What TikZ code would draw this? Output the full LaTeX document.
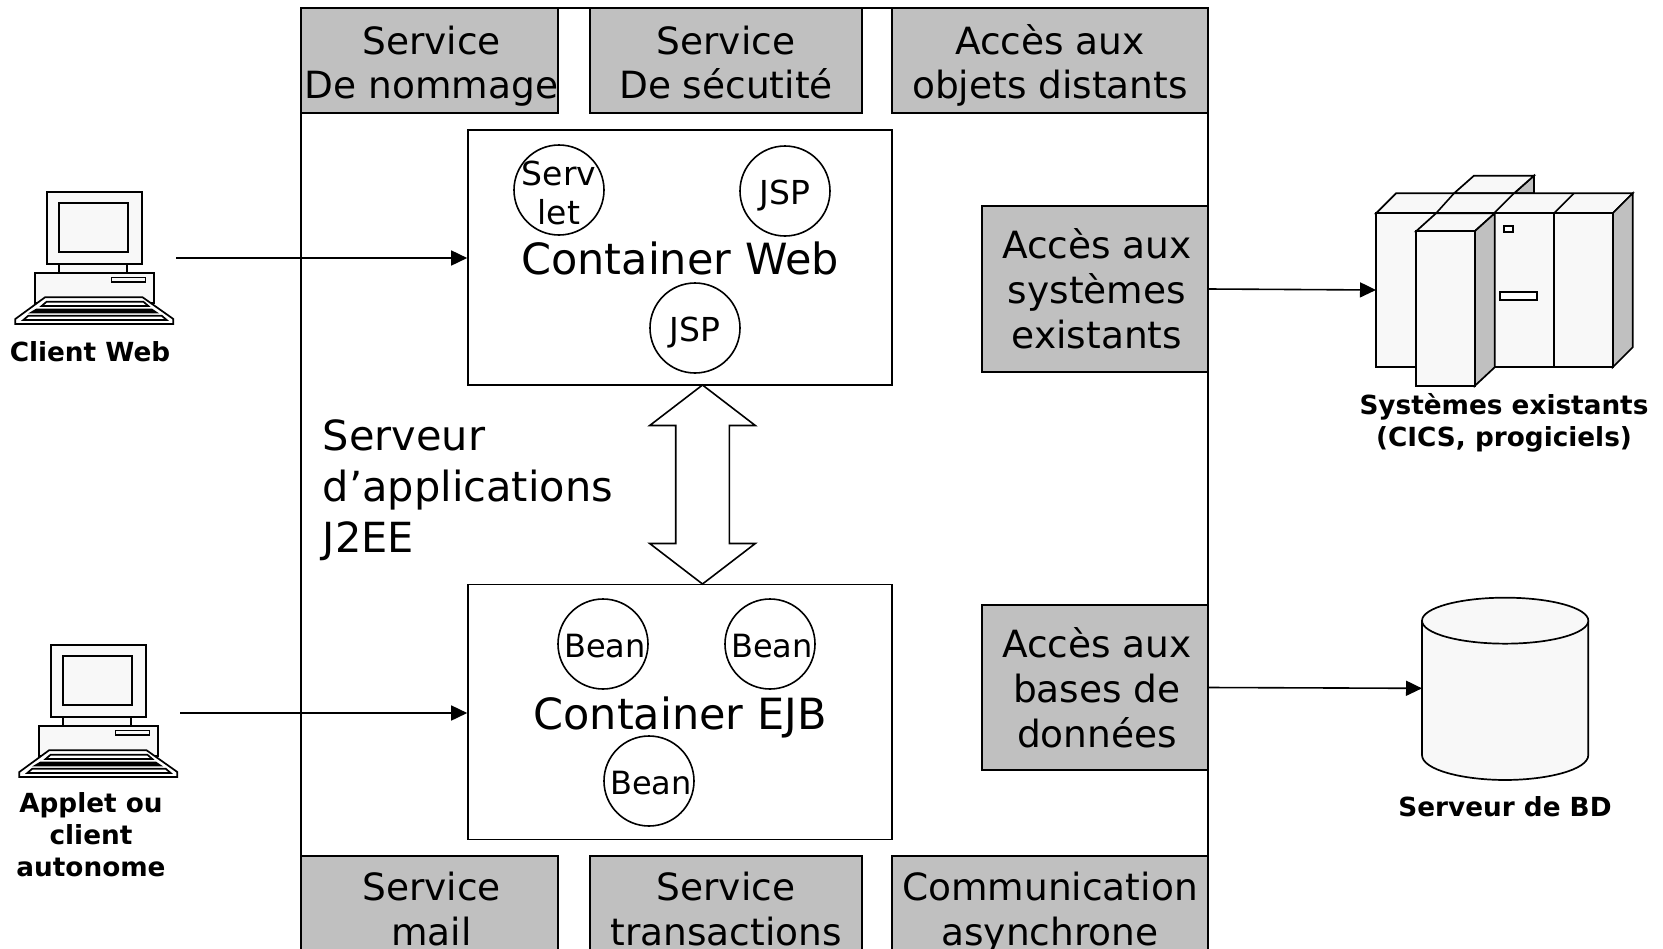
\documentclass[tikz,border=0pt]{standalone}
\usepackage{fontspec}
\setmainfont{DejaVu Sans}
\usetikzlibrary{arrows.meta,shapes.arrows}
\definecolor{boxgray}{HTML}{C0C0C0}
\definecolor{pale}{HTML}{F8F8F8}
\newcommand{\hta}{\rule{0pt}{40pt}}
\newcommand{\htb}{\rule{0pt}{36pt}}
\newcommand{\htc}{\rule{0pt}{38pt}}
\newcommand{\dpa}{\rule[-8.3pt]{0pt}{8.3pt}}
\newcommand{\shr}{\hspace*{4pt}}
\tikzset{
  graybox/.style={draw,fill=boxgray,inner sep=0pt,align=center,font=\fontsize{37.5}{44.5}\selectfont},
  sidebox/.style={graybox,font=\fontsize{37.5}{45}\selectfont},
  container/.style={draw,fill=white,inner sep=0pt,minimum width=424pt,minimum height=255pt},
  bigtext/.style={inner sep=0pt,align=left,font=\fontsize{41.5}{51}\selectfont},
  conttext/.style={inner sep=0pt,text height=31pt,text depth=0pt,font=\fontsize{43}{50}\selectfont},
  comp/.style={draw,circle,fill=white,inner sep=0pt,minimum size=90pt,text height=26pt,text depth=0pt,font=\fontsize{33}{39}\selectfont},
  beancomp/.style={comp,font=\fontsize{32}{39}\selectfont},
  captxt/.style={inner sep=0pt,align=center,font=\fontsize{26.3}{32}\selectfont\bfseries},
  flow/.style={-{Triangle[length=16pt,width=15pt]}},
  icon/.style={draw,fill=pale,line width=1.7pt},
  pics/computer/.style={code={
    \begin{scope}[x=0.3333pt,y=-0.3333pt]
      \draw[icon] (178,282) rectangle (382,312);
      \draw[icon] (142,65) rectangle (425,282);
      \draw[icon] (178,100) rectangle (383,245);
      \draw[icon] (106,310) rectangle (462,400);
      \draw[icon,line width=1.4pt] (335,323) rectangle (437,336);
      \draw[icon,fill=white] (135,382) -- (428,382) -- (520,447) -- (520,462) -- (46,462) -- (46,447) -- cycle;
      \draw[icon,fill=white] (125,408) -- (140,395) -- (430,395) -- (445,408) -- cycle;
      \draw[draw=black,fill=black] (93,428) -- (110,418) -- (455,418) -- (470,428) -- cycle;
      \draw[icon,fill=white] (70,450) -- (85,437) -- (485,437) -- (500,450) -- cycle;
    \end{scope}
  }},
}
\begin{document}
\begin{tikzpicture}[x=1pt,y=-1pt,line width=1.6pt]
\clip (0,0) rectangle (1663,948);
\fill[white] (0,0) rectangle (1663,948);
% server
\draw (301,8) rectangle (1208,1000);
% top services
\node[graybox,minimum width=257pt,minimum height=105pt] (nom) at (429.5,60.5) {\hta\shr Service\\\shr De nommage\dpa};
\node[graybox,minimum width=272pt,minimum height=105pt] (sec) at (726,60.5) {\hta Service\\De sécutité\dpa};
\node[graybox,minimum width=316pt,minimum height=105pt] (dist) at (1050,60.5) {\hta Accès aux\\objets distants\dpa};
% bottom services
\node[graybox,minimum width=257pt,minimum height=106pt] (mail) at (429.5,909) {\htb\shr Service\\\shr mail\dpa};
\node[graybox,minimum width=272pt,minimum height=106pt] (trans) at (726,909) {\htb Service\\transactions\dpa};
\node[graybox,minimum width=316pt,minimum height=106pt] (async) at (1050,909) {\htb Communication\\asynchrone\dpa};
% side services
\node[sidebox,minimum width=226pt,minimum height=166pt] (sys) at (1095,289) {\htc\shr Accès aux\\\shr systèmes\\\shr existants\dpa};
\node[sidebox,minimum width=226pt,minimum height=165pt] (bd) at (1095,687.5) {\htc\shr Accès aux\\\shr bases de\\\shr données\dpa};
% containers
\node[container] (web) at (680,257.5) {};
\node[container] (ejb) at (680,712) {};
\node[conttext] (webt) at (680,259) {Container Web};
\node[conttext] (ejbt) at (680,714) {Container EJB};
\node[comp,label={[inner sep=0pt,align=center,yshift=-3pt,text height=,text depth=,font=\fontsize{33}{39}\selectfont]center:Serv\\let}] (sv) at (559,190) {};
\node[comp] (j1) at (785,191) {JSP};
\node[comp] (j2) at (695,328) {JSP};
\node[beancomp] (b1) at (603,644) {\shr Bean};
\node[beancomp] (b2) at (770,644) {\shr Bean};
\node[beancomp] (b3) at (649,781) {\shr Bean};
% double arrow
\node[draw,fill=white,shape=double arrow,rotate=90,minimum height=199pt,inner xsep=0pt,inner ysep=26pt,
  double arrow head extend=26pt,double arrow tip angle=105] (da) at (702.5,484.5) {};
\node[bigtext,anchor=west] (srv) at (322,490) {Serveur\\d’applications\\J2EE};
% computers
\pic (c1) at (0,170) {computer};
\pic (c2) at (4,623) {computer};
\node[captxt] (cw) at (90,352) {Client Web};
\node[captxt] (ca) at (91,835) {Applet ou\\client\\autonome};
\coordinate (c1o) at (176,258);
\coordinate (c2o) at (180,713);
\draw[flow] (c1o) -- (c1o -| web.west);
\draw[flow] (c2o) -- (c2o -| ejb.west);
% mainframe
\begin{scope}[shift={(1340,160)},x=0.3333pt,y=-0.3333pt]
  \draw[icon,fill=boxgray] (522,100) -- (582,47) -- (582,100) -- cycle;
  \draw[icon] (342,100) -- (402,47) -- (582,47) -- (522,100) -- cycle;
  \draw[icon] (108,160) -- (168,100) -- (878,100) -- (818,160) -- cycle;
  \draw[icon,fill=boxgray] (818,160) -- (878,100) -- (878,562) -- (818,622) -- cycle;
  \draw[icon] (108,160) rectangle (818,622);
  \draw (642,160) -- (642,622);
  \draw (642,160) -- (702,100);
  \draw (462,160) -- (522,100);
  \draw (288,160) -- (342,100);
  \draw[icon] (228,214) -- (288,160) -- (464,160) -- (404,214) -- cycle;
  \draw[icon,fill=boxgray] (404,214) -- (464,160) -- (464,622) -- (404,678) -- cycle;
  \draw[icon] (228,214) rectangle (404,678);
  \draw[icon,fill=white] (492,197) rectangle (518,215);
  \draw[icon,fill=white] (480,395) rectangle (590,420);
  \coordinate (mf) at (108,390);
\end{scope}
% database
\begin{scope}[shift={(1400,580)},x=0.3333pt,y=-0.3333pt]
  \draw[icon] (66,122) -- (66,525) .. controls (66,570) and (190,600) .. (315,600) .. controls (440,600) and (565,570) .. (565,525) -- (565,122);
  \draw[icon] (315.5,122) ellipse [x radius=249.5,y radius=69];
  \coordinate (dbw) at (66,325);
\end{scope}
\node[captxt] (cs) at (1504,423) {Systèmes existants\\(CICS, progiciels)};
\node[captxt] (cb) at (1505,807) {Serveur de BD};
\draw[flow] (sys.east) -- (mf);
\draw[flow] (bd.east) -- (dbw);
\end{tikzpicture}
\end{document}
